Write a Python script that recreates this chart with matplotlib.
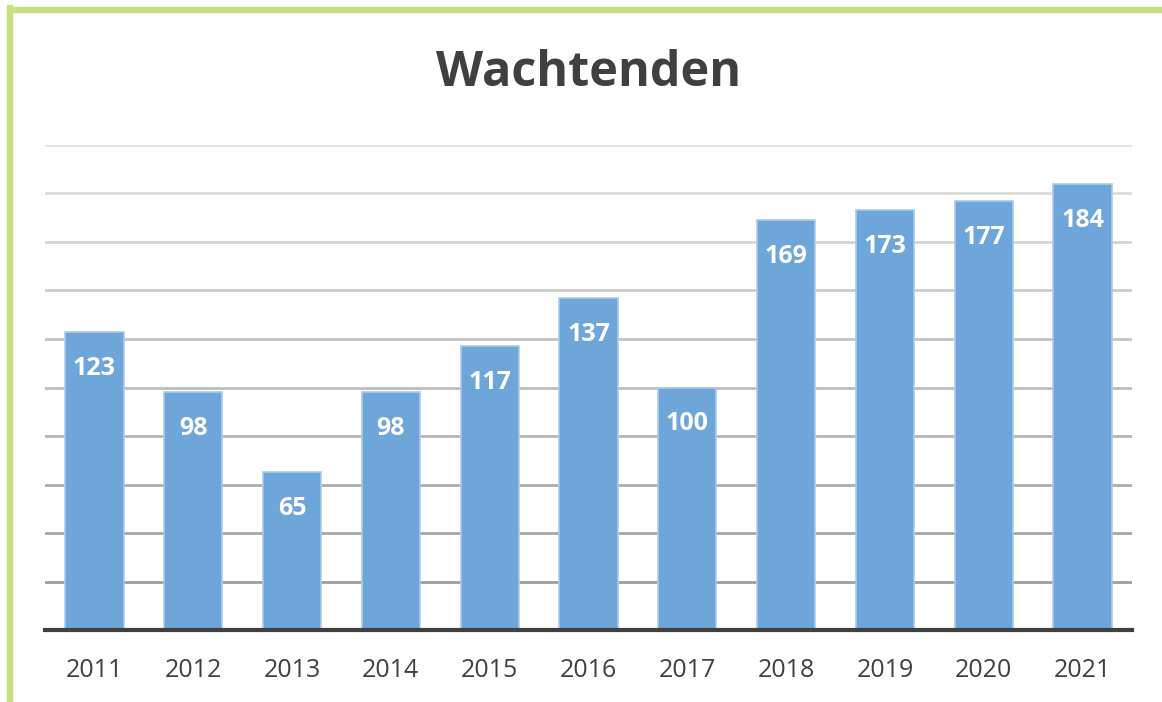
import matplotlib.pyplot as plt
import numpy as np
from matplotlib.lines import Line2D

years = ["2011", "2012", "2013", "2014", "2015", "2016", "2017", "2018", "2019", "2020", "2021"]
values = [123, 98, 65, 98, 117, 137, 100, 169, 173, 177, 184]
title = "Wachtenden"

W, H = 1162, 702
fig = plt.figure(figsize=(W / 100, H / 100), dpi=100)
fig.patch.set_facecolor("white")

# Green frame (top and left)
green = "#C5DF82"
fig.add_artist(Line2D([9.5 / W, 1.0], [1 - 9.5 / H, 1 - 9.5 / H], color=green, lw=4.5, transform=fig.transFigure))
fig.add_artist(Line2D([9.5 / W, 9.5 / W], [0, 1 - 7.5 / H], color=green, lw=4.5, transform=fig.transFigure))

ax = fig.add_axes([45 / W, 1 - 630 / H, (1132 - 45) / W, (630 - 145) / H])
x = np.arange(len(years))
ax.set_xlim(-0.5, len(years) - 0.5)
ax.set_ylim(0, 200)

# gridlines with slight gradient (darker near bottom)
for i, yv in enumerate(range(20, 201, 20)):
    t = (yv - 20) / 180
    c = 0.62 + 0.27 * t
    ax.axhline(yv, color=(c, c, c), lw=2, zorder=0)

bars = ax.bar(x, values, width=0.59, color="#6FA6D9", edgecolor="#A9CBEB", linewidth=1.2, zorder=2)
for xi, v in zip(x, values):
    ax.text(xi, v - 15, str(v), ha="center", va="center", color="white",
            fontsize=18, fontweight="bold", family="Open Sans", zorder=3)

for s in ["top", "right", "left"]:
    ax.spines[s].set_visible(False)
ax.spines["bottom"].set_color("#404040")
ax.spines["bottom"].set_linewidth(3)
ax.spines["bottom"].set_zorder(4)
ax.set_yticks([])
ax.set_xticks(x)
ax.set_xticklabels(years, fontsize=18, color="#404040", family="Open Sans")
ax.tick_params(axis="x", length=0, pad=20)

fig.text(589 / W, 1 - 74 / H, title, ha="center", va="center", fontsize=35,
         fontweight="bold", color="#404040", family="Open Sans")

fig.savefig("out.png", dpi=100)
